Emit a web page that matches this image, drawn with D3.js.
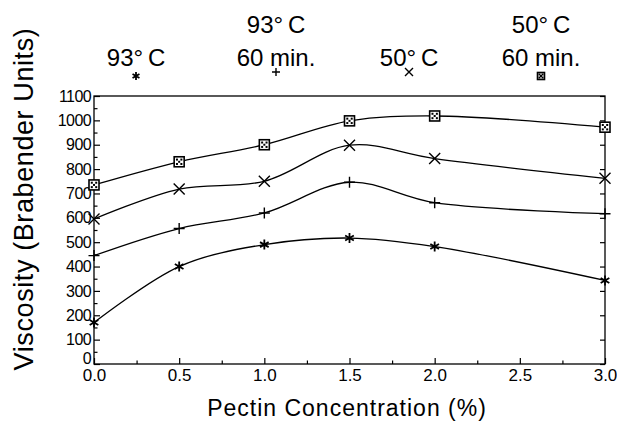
<!DOCTYPE html>
<html>
<head>
<meta charset="utf-8">
<script src="https://cdn.jsdelivr.net/npm/d3@7"></script>
<style>
  html, body { margin: 0; padding: 0; background: #fff; }
  svg { display: block; font-family: "Liberation Sans", Arial, sans-serif; }
</style>
</head>
<body>
<svg id="chart" width="617" height="423"></svg>
<script>
// ---- data ----
const concentrations = [0.0, 0.5, 1.0, 1.5, 2.0, 3.0];
const series93 = [170, 400, 490, 517, 482, 343];          // 93°C  (asterisk)
const series93_60 = [445, 556, 620, 746, 662, 617];       // 93°C 60 min (plus)
const series50 = [595, 718, 750, 898, 843, 762];          // 50°C  (x)
const series50_60 = [735, 830, 900, 998, 1018, 972];      // 50°C 60 min (box)
const xTicks = [0.0, 0.5, 1.0, 1.5, 2.0, 2.5, 3.0];
const yTicks = [0, 100, 200, 300, 400, 500, 600, 700, 800, 900, 1000, 1100];
const legendLabels = [["93°\u2009C"], ["93°\u2009C", "60 min."], ["50°\u2009C"], ["50°\u2009C", "60 min."]];
const markerTypes = ["star", "plus", "cross", "box"];

const allSeries = [series93, series93_60, series50, series50_60];

// ---- layout ----
const svg = d3.select("#chart");
const L = 94, R = 605, T = 96, B = 364;
const x = d3.scaleLinear().domain([0, 3]).range([L, R]);
const y = d3.scaleLinear().domain([0, 1100]).range([B, T]);

// frame
svg.append("rect").attr("x", L).attr("y", T).attr("width", R - L).attr("height", B - T)
  .attr("fill", "none").attr("stroke", "#000").attr("stroke-width", 1.3);

// bottom axis (ticks inward)
const xAxis = d3.axisBottom(x).tickValues(xTicks).tickSizeInner(-6).tickSizeOuter(0)
  .tickFormat(d3.format(".1f")).tickPadding(10);
const gx = svg.append("g").attr("transform", `translate(0,${B})`).call(xAxis);
gx.select(".domain").remove();
gx.selectAll("text").attr("font-size", 17).attr("fill", "#000").attr("font-family", "Liberation Sans, Arial, sans-serif").attr("dy", "0.75em").attr("y", 4);
gx.selectAll("line").attr("stroke-width", 1.2);
// minor x ticks
const gxm = svg.append("g").attr("transform", `translate(0,${B})`)
  .call(d3.axisBottom(x).tickValues([0.25, 0.75, 1.25, 1.75, 2.25, 2.75]).tickSizeInner(-3.5).tickSizeOuter(0).tickFormat(""));
gxm.select(".domain").remove();
gxm.selectAll("line").attr("stroke-width", 1.2);

// left axis
const yAxis = d3.axisLeft(y).tickValues(yTicks).tickSizeInner(-6).tickSizeOuter(0).tickPadding(4)
  .tickFormat(d3.format("d"));
const gy = svg.append("g").attr("transform", `translate(${L},0)`).call(yAxis);
gy.select(".domain").remove();
gy.selectAll("text").attr("font-size", 16).attr("fill", "#000").attr("letter-spacing", "-0.6")
  .attr("font-family", "Liberation Sans, Arial, sans-serif").attr("x", -3)
  .attr("dy", d => d === 0 ? "-0.05em" : "0.32em");
gy.selectAll("line").attr("stroke-width", 1.2);
const minorY = d3.range(50, 1100, 100);
const gym = svg.append("g").attr("transform", `translate(${L},0)`)
  .call(d3.axisLeft(y).tickValues(minorY).tickSizeInner(-3.5).tickSizeOuter(0).tickFormat(""));
gym.select(".domain").remove();
gym.selectAll("line").attr("stroke-width", 1.2);

// right axis ticks (inward)
const gr = svg.append("g").attr("transform", `translate(${R},0)`)
  .call(d3.axisRight(y).tickValues(yTicks).tickSizeInner(-5).tickSizeOuter(0).tickFormat(""));
gr.select(".domain").remove();
gr.selectAll("line").attr("stroke-width", 1.2);

// axis titles
svg.append("text").attr("x", 347).attr("y", 416).attr("text-anchor", "middle")
  .attr("font-size", 23).attr("letter-spacing", "1").text("Pectin Concentration (%)");
svg.append("text").attr("transform", "translate(33,199) rotate(-90)").attr("text-anchor", "middle")
  .attr("font-size", 27).attr("letter-spacing", "0.6").text("Viscosity (Brabender Units)");

// ---- markers ----
function markerPath(type, s) {
  const h = s / 2;
  if (type === "plus") return `M${-h},0H${h}M0,${-h}V${h}`;
  if (type === "cross") return `M${-h},${-h}L${h},${h}M${-h},${h}L${h},${-h}`;
  if (type === "star") {
    let p = `M0,${-h}V${h}`;
    const a = h * Math.cos(Math.PI / 6), b = h * Math.sin(Math.PI / 6);
    p += `M${-a},${-b}L${a},${b}M${-a},${b}L${a},${-b}`;
    return p;
  }
  return "";
}
function drawMarker(g, type, cx, cy, s) {
  if (type === "box") {
    const h = s / 2;
    g.append("rect").attr("x", cx - h).attr("y", cy - h).attr("width", s).attr("height", s)
      .attr("fill", "#fff").attr("stroke", "#000").attr("stroke-width", 1.6);
    const q = s * 0.22;
    [[-1, -1], [1, -1], [-1, 1], [1, 1], [0, 0]].forEach(([dx, dy]) => {
      g.append("rect").attr("x", cx + dx * q - 1).attr("y", cy + dy * q - 1)
        .attr("width", 2).attr("height", 2).attr("fill", "#000");
    });
  } else {
    g.append("path").attr("transform", `translate(${cx},${cy})`).attr("d", markerPath(type, s))
      .attr("fill", "none").attr("stroke", "#000").attr("stroke-width", type === "star" ? 1.8 : 1.4);
  }
}

// ---- lines ----
const line = d3.line().x((d, i) => x(concentrations[i])).y(d => y(d)).curve(d3.curveCatmullRom.alpha(0.5));
const plot = svg.append("g");
allSeries.forEach((vals, k) => {
  plot.append("path").attr("d", line(vals)).attr("fill", "none").attr("stroke", "#000").attr("stroke-width", 1.3);
});
allSeries.forEach((vals, k) => {
  const size = markerTypes[k] === "box" ? 10 : (markerTypes[k] === "star" ? 10 : 11);
  vals.forEach((v, i) => drawMarker(plot, markerTypes[k], x(concentrations[i]), y(v), size));
});

// ---- legend ----
const legendX = [136, 276, 409, 541];
const legendMarkerY = [76, 72, 72, 76];
legendLabels.forEach((lines, k) => {
  const g = svg.append("g");
  lines.forEach((t, j) => {
    const baseY = 66 - (lines.length - 1 - j) * 33;
    g.append("text").attr("x", legendX[k]).attr("y", baseY).attr("text-anchor", "middle")
      .attr("font-size", 24).text(t);
  });
  drawMarker(g, markerTypes[k], legendX[k], legendMarkerY[k], markerTypes[k] === "box" ? 7 : 8);
});
</script>
</body>
</html>
